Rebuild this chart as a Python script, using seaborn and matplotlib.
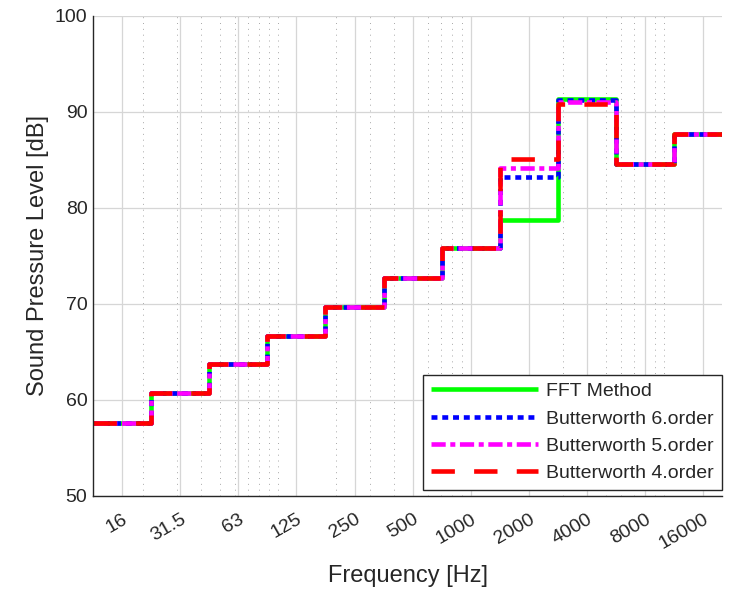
#%%
# Packages
import numpy as np
import pandas as pd
import matplotlib
matplotlib.use("Agg")
import matplotlib.pyplot as plt
from matplotlib.ticker import FixedLocator, FixedFormatter, LogLocator, NullFormatter
import seaborn as sns

sns.set_theme(style="white")
plt.rcParams["font.family"] = ["Liberation Sans", "DejaVu Sans"]

#%%
# Octave band levels
band_centers = [15.625, 31.25, 62.5, 125, 250, 500, 1000, 2000, 4000, 8000, 16000]
band_labels = ["16", "31.5", "63", "125", "250", "500", "1000", "2000", "4000", "8000", "16000"]

fft_method = [57.6, 60.7, 63.7, 66.7, 69.7, 72.7, 75.8, 78.7, 91.4, 84.6, 87.7]
butter_6 = [57.6, 60.7, 63.7, 66.7, 69.7, 72.7, 75.8, 83.2, 91.2, 84.6, 87.7]
butter_5 = [57.6, 60.7, 63.7, 66.7, 69.7, 72.7, 75.8, 84.2, 91.0, 84.6, 87.7]
butter_4 = [57.6, 60.7, 63.7, 66.7, 69.7, 72.7, 75.8, 85.1, 90.8, 84.6, 87.7]

series_names = ["FFT Method", "Butterworth 6.order", "Butterworth 5.order", "Butterworth 4.order"]
series_values = [fft_method, butter_6, butter_5, butter_4]
series_colors = ["#00ff00", "#0000ff", "#ff00ff", "#ff0000"]
series_styles = ["-", (0, (1.3, 1.05)), (0, (3.1, 1.0, 1.1, 1.0)), (0, (5.1, 4.2))]

#%%
# Band edges for the stairs (lower edges + last upper edge)
centers = np.array(band_centers)
edges = np.append(centers / np.sqrt(2), centers[-1] * np.sqrt(2))

txt = "#262626"
fig = plt.figure(figsize=(7.34, 5.90), dpi=100)
ax = fig.add_axes([93 / 734, 1 - 496 / 590, 629 / 734, 480 / 590])

for name, vals, col, ls in zip(series_names, series_values, series_colors, series_styles):
    df = pd.DataFrame({"f": edges, "spl": list(vals) + [vals[-1]]})
    sns.lineplot(data=df, x="f", y="spl", ax=ax, drawstyle="steps-post",
                 color=col, linestyle=ls, linewidth=3.3, label=name,
                 solid_capstyle="butt", dash_capstyle="butt")

ax.set_xscale("log")
ax.set_xlim(edges[0], 20000)
ax.set_ylim(50, 100)

ax.xaxis.set_major_locator(FixedLocator(band_centers))
ax.xaxis.set_major_formatter(FixedFormatter(band_labels))
ax.xaxis.set_minor_locator(LogLocator(base=10, subs=np.arange(1, 10)))
ax.xaxis.set_minor_formatter(NullFormatter())
ax.set_yticks(np.arange(50, 101, 10))

ax.grid(True, which="major", color="#d6d6d6", linewidth=0.9)
ax.grid(True, which="minor", axis="x", color="#a8a8a8", linestyle=(0, (1, 5)), linewidth=0.7)
ax.set_axisbelow(True)

for s in ["top", "right"]:
    ax.spines[s].set_visible(False)
for s in ["left", "bottom"]:
    ax.spines[s].set_color(txt)
    ax.spines[s].set_linewidth(1.0)

ax.tick_params(axis="both", which="major", direction="in", length=4, width=0.8,
               colors=txt, labelsize=14)
ax.tick_params(axis="x", which="major", pad=10.5)
ax.tick_params(axis="y", which="major", pad=4)
ax.tick_params(axis="x", which="minor", length=0)
for lab in ax.get_xticklabels():
    lab.set_rotation(30)
    lab.set_ha("right")
    lab.set_va("top")
    lab.set_rotation_mode("anchor")

ax.set_xlabel("Frequency [Hz]", fontsize=17, color=txt)
ax.set_ylabel("Sound Pressure Level [dB]", fontsize=17, color=txt)
ax.xaxis.set_label_coords(0.5, -0.143)
ax.yaxis.set_label_coords(-0.07, 0.5)

leg = ax.legend(loc="lower right", bbox_to_anchor=(1.0, 0.0125), borderaxespad=0,
                fontsize=14, handlelength=5.5, handletextpad=0.45, labelspacing=0.5,
                borderpad=0.4, fancybox=False, framealpha=1, edgecolor="#262626")
leg.get_frame().set_linewidth(1.0)

plt.savefig("out.png", dpi=100)
